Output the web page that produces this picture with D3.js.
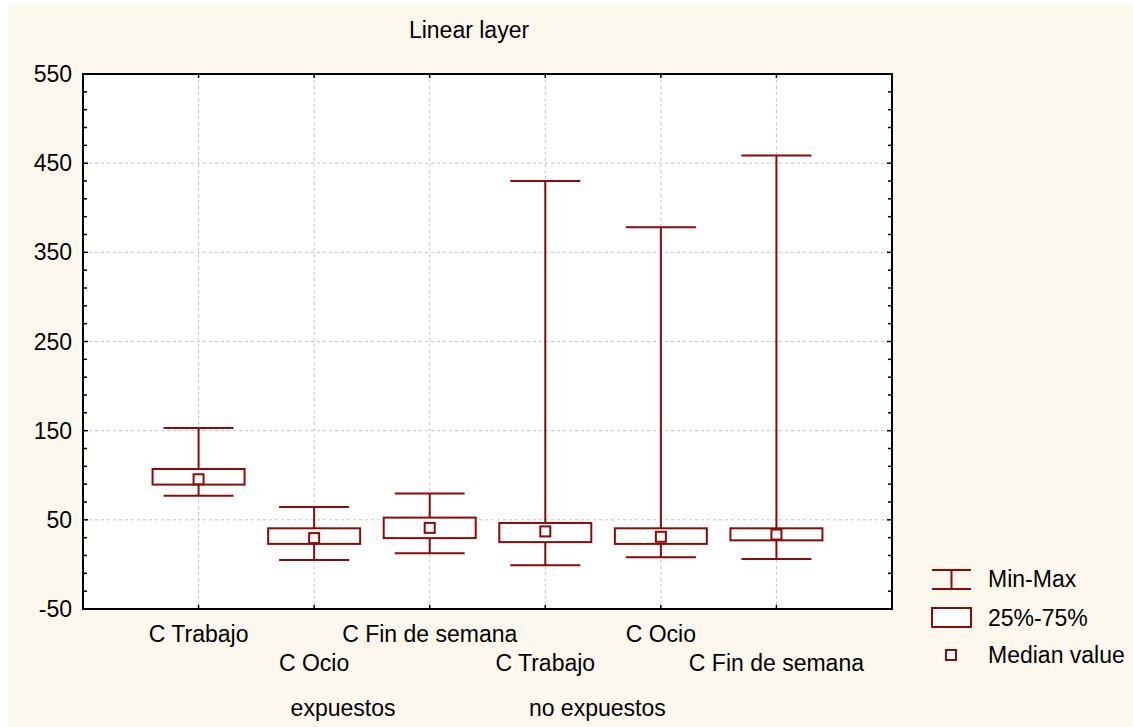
<!DOCTYPE html>
<html>
<head>
<meta charset="utf-8">
<script src="https://cdn.jsdelivr.net/npm/d3@7"></script>
<style>
  html, body { margin: 0; padding: 0; background: #ffffff; }
  svg { display: block; }
  text { font-family: "Liberation Sans", Arial, sans-serif; fill: #000; }
</style>
</head>
<body>
<svg id="chart" width="1133" height="727"></svg>
<script>
// ---- data ----
const categories = ["C Trabajo", "C Ocio", "C Fin de semana", "C Trabajo", "C Ocio", "C Fin de semana"];
const minValues    = [77, 5, 12.5, -1, 8, 6];
const q1Values     = [89.5, 23, 29.5, 25, 23, 27];
const medianValues = [95.5, 29.5, 41, 37, 31, 33.5];
const q3Values     = [107, 40.5, 52.5, 46.5, 40.5, 40.5];
const maxValues    = [153, 64.5, 79.5, 430, 378, 458.5];
const groupLabels  = ["expuestos", "no expuestos"];
const groupPositions = [2.25, 4.45];
const yTickValues  = [-50, 50, 150, 250, 350, 450, 550];
const title = "Linear layer";
const legendLabels = ["Min-Max", "25%-75%", "Median value"];

// ---- layout ----
const W = 1133, H = 727;
const plot = { left: 83, right: 892, top: 74, bottom: 609 };
const red = "#8b0a0a";
const FS = 23;
const svg = d3.select("#chart");

svg.append("rect").attr("x", 8).attr("y", 4).attr("width", W - 8).attr("height", H - 4).attr("fill", "#fdf8ed");
svg.append("rect").attr("x", plot.left).attr("y", plot.top)
  .attr("width", plot.right - plot.left).attr("height", plot.bottom - plot.top).attr("fill", "#ffffff");

const x = d3.scaleLinear().domain([0, categories.length + 1]).range([plot.left, plot.right]);
const y = d3.scaleLinear().domain([-50, 550]).range([plot.bottom, plot.top]);

const idx = d3.range(categories.length);

// grid
const grid = svg.append("g").attr("stroke", "#c4c4c4").attr("stroke-width", 1).attr("stroke-dasharray", "3,3");
yTickValues.slice(1, -1).forEach(v => {
  grid.append("line").attr("x1", plot.left).attr("x2", plot.right).attr("y1", y(v)).attr("y2", y(v));
});
idx.forEach(i => {
  grid.append("line").attr("x1", x(i + 1)).attr("x2", x(i + 1)).attr("y1", plot.top).attr("y2", plot.bottom);
});

// boxes
const capW = 70, boxW = 92, medS = 10;
const g = svg.append("g").attr("stroke", red).attr("stroke-width", 2).attr("fill", "#fff");
idx.forEach(i => {
  const cx = x(i + 1);
  g.append("line").attr("x1", cx).attr("x2", cx).attr("y1", y(minValues[i])).attr("y2", y(q1Values[i]));
  g.append("line").attr("x1", cx).attr("x2", cx).attr("y1", y(q3Values[i])).attr("y2", y(maxValues[i]));
  g.append("line").attr("x1", cx - capW / 2).attr("x2", cx + capW / 2).attr("y1", y(minValues[i])).attr("y2", y(minValues[i]));
  g.append("line").attr("x1", cx - capW / 2).attr("x2", cx + capW / 2).attr("y1", y(maxValues[i])).attr("y2", y(maxValues[i]));
  g.append("rect").attr("x", cx - boxW / 2).attr("y", y(q3Values[i]))
    .attr("width", boxW).attr("height", y(q1Values[i]) - y(q3Values[i]));
  g.append("rect").attr("x", cx - medS / 2).attr("y", y(medianValues[i]) - medS / 2)
    .attr("width", medS).attr("height", medS);
});

// axes frame + ticks
const axis = svg.append("g").attr("stroke", "#000");
axis.append("rect").attr("x", plot.left).attr("y", plot.top)
  .attr("width", plot.right - plot.left).attr("height", plot.bottom - plot.top)
  .attr("fill", "none").attr("stroke-width", 2);
const minorTicks = d3.range(-50, 551, 20);
minorTicks.forEach(v => {
  const len = yTickValues.includes(v) ? 5 : 4;
  axis.append("line").attr("x1", plot.left).attr("x2", plot.left + len).attr("y1", y(v)).attr("y2", y(v)).attr("stroke-width", 1.5);
  axis.append("line").attr("x1", plot.right).attr("x2", plot.right - len).attr("y1", y(v)).attr("y2", y(v)).attr("stroke-width", 1.5);
});
idx.forEach(i => {
  const cx = x(i + 1);
  axis.append("line").attr("x1", cx).attr("x2", cx).attr("y1", plot.bottom).attr("y2", plot.bottom - 4).attr("stroke-width", 1.5);
  axis.append("line").attr("x1", cx).attr("x2", cx).attr("y1", plot.top).attr("y2", plot.top + 4).attr("stroke-width", 1.5);
});

// y labels
svg.append("g").selectAll("text").data(yTickValues).join("text")
  .attr("x", 72).attr("y", d => y(d) + 8).attr("text-anchor", "end")
  .attr("font-size", FS).text(d => d);

// x labels (staggered)
svg.append("g").selectAll("text").data(categories).join("text")
  .attr("x", (d, i) => x(i + 1)).attr("y", (d, i) => i % 2 === 0 ? 642 : 671)
  .attr("text-anchor", "middle").attr("font-size", FS).text(d => d);

// group labels
svg.append("g").selectAll("text").data(groupLabels).join("text")
  .attr("x", (d, i) => x(groupPositions[i])).attr("y", 716)
  .attr("text-anchor", "middle").attr("font-size", FS).text(d => d);

// title
svg.append("text").attr("x", 469).attr("y", 38).attr("text-anchor", "middle")
  .attr("font-size", FS).text(title);

// legend
const lg = svg.append("g");
const lsym = lg.append("g").attr("stroke", red).attr("stroke-width", 2).attr("fill", "#fff");
lsym.append("line").attr("x1", 932).attr("x2", 971).attr("y1", 570).attr("y2", 570);
lsym.append("line").attr("x1", 932).attr("x2", 971).attr("y1", 589).attr("y2", 589);
lsym.append("line").attr("x1", 951.5).attr("x2", 951.5).attr("y1", 570).attr("y2", 589);
lsym.append("rect").attr("x", 932).attr("y", 608).attr("width", 39).attr("height", 19);
lsym.append("rect").attr("x", 946).attr("y", 650).attr("width", 10).attr("height", 10);
lg.selectAll("text").data(legendLabels).join("text")
  .attr("x", 988).attr("y", (d, i) => [587, 626, 663][i])
  .attr("font-size", FS).text(d => d);
</script>
</body>
</html>
